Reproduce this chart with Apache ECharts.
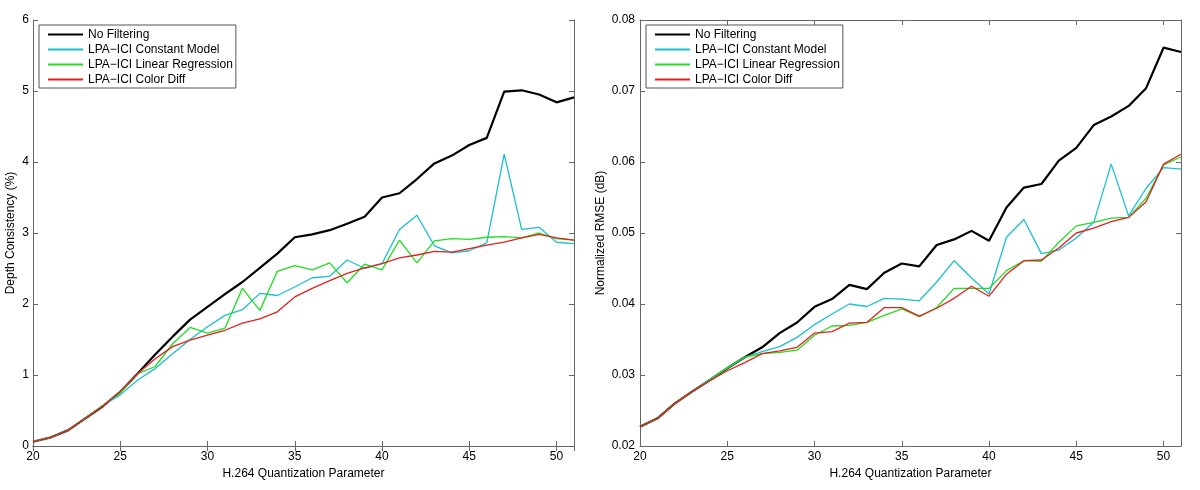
<!DOCTYPE html>
<html><head><meta charset="utf-8">
<script src="https://cdn.jsdelivr.net/npm/echarts@6/dist/echarts.min.js"></script>
<style>html,body{margin:0;padding:0;background:#fff}#c{width:1200px;height:490px}</style>
</head><body><div id="c"></div>
<script>
const qp = [20,21,22,23,24,25,26,27,28,29,30,31,32,33,34,35,36,37,38,39,40,41,42,43,44,45,46,47,48,49,50,51];
const seriesNames = ['No Filtering','LPA\u2212ICI Constant Model','LPA\u2212ICI Linear Regression','LPA\u2212ICI Color Diff'];

// Left: Depth Consistency (%)
const depthNoFilter = [0.06,0.12,0.22,0.39,0.56,0.76,1.02,1.29,1.54,1.78,1.96,2.14,2.31,2.51,2.71,2.94,2.98,3.04,3.13,3.23,3.50,3.56,3.76,3.98,4.09,4.24,4.34,4.99,5.01,4.95,4.84,4.91];
const depthConst    = [0.06,0.12,0.22,0.39,0.57,0.72,0.93,1.09,1.30,1.50,1.68,1.84,1.92,2.15,2.12,2.24,2.37,2.39,2.62,2.50,2.57,3.05,3.25,2.82,2.72,2.75,2.86,4.11,3.05,3.08,2.87,2.85];
const depthLinReg   = [0.06,0.12,0.22,0.39,0.57,0.75,1.02,1.12,1.44,1.67,1.59,1.66,2.22,1.91,2.46,2.54,2.48,2.58,2.30,2.56,2.48,2.90,2.58,2.89,2.92,2.91,2.94,2.95,2.93,3.00,2.92,2.90];
const depthColor    = [0.06,0.12,0.22,0.39,0.56,0.77,1.02,1.23,1.40,1.49,1.56,1.63,1.73,1.79,1.89,2.10,2.22,2.33,2.43,2.51,2.57,2.65,2.69,2.74,2.73,2.78,2.83,2.87,2.93,2.98,2.93,2.90];

// Right: Normalized RMSE (dB)
const rmseNoFilter = [0.0227,0.0239,0.0260,0.0277,0.0293,0.03095,0.0325,0.0339,0.0359,0.0374,0.0396,0.0407,0.0427,0.0421,0.0444,0.0457,0.0453,0.0483,0.0491,0.0503,0.0489,0.0536,0.0564,0.0569,0.0602,0.0620,0.0652,0.0664,0.0679,0.0704,0.0761,0.0755];
const rmseConst    = [0.0227,0.0239,0.0260,0.0277,0.0294,0.03095,0.0325,0.0333,0.0340,0.0353,0.0371,0.0386,0.0400,0.03965,0.0408,0.0407,0.04045,0.0431,0.0461,0.04365,0.0414,0.0494,0.0519,0.0471,0.0476,0.0493,0.0515,0.0597,0.0524,0.0563,0.0592,0.0590];
const rmseLinReg   = [0.0227,0.0239,0.0260,0.0277,0.0293,0.0310,0.0325,0.0330,0.0332,0.0335,0.0356,0.0369,0.0370,0.0374,0.0384,0.0393,0.0382,0.0395,0.0422,0.0422,0.0422,0.0447,0.0461,0.0460,0.0487,0.0510,0.0515,0.0521,0.0522,0.0549,0.0596,0.0607];
const rmseColor    = [0.0227,0.0239,0.0260,0.0277,0.0292,0.0306,0.03175,0.0330,0.0334,0.0339,0.0359,0.0361,0.0373,0.0374,0.0395,0.0395,0.0383,0.0394,0.0408,0.0425,0.0411,0.0442,0.0461,0.0462,0.0479,0.0500,0.0507,0.0516,0.0522,0.0544,0.0597,0.0611];

const xTicks = [20,25,30,35,40,45,50];

const FONT = '"Liberation Sans", Arial, Helvetica, sans-serif';
const AX = '#666';
const colors = ['#000000','#1cbfcf','#22dd22','#e4201c'];
const widths = [2.2,1.3,1.3,1.3];

function pairs(arr){ return qp.map((q,i)=>[q, arr[i]]); }

function xAxes(g){
  const base = {gridIndex:g, type:'value', min:20, max:51, interval:5,
    axisLine:{lineStyle:{color:AX,width:1}},
    axisTick:{inside:true,length:5,lineStyle:{color:AX}},
    splitLine:{show:false}};
  return [
    Object.assign({}, base, {position:'bottom',
      axisLabel:{color:'#000',fontSize:12,fontFamily:FONT,margin:5,
        formatter:v=> xTicks.indexOf(v)>=0 ? String(v) : ''},
      name:'H.264 Quantization Parameter', nameLocation:'middle', nameGap:18,
      nameTextStyle:{color:'#000',fontSize:12,fontFamily:FONT}}),
    Object.assign({}, base, {position:'top', axisLabel:{show:false}})
  ];
}
function yAxes(g, min, max, interval, name, gap, fmt, margin){
  const base = {gridIndex:g, type:'value', min:min, max:max, interval:interval,
    axisLine:{show:true,lineStyle:{color:AX,width:1}},
    axisTick:{show:true,inside:true,length:5,lineStyle:{color:AX}},
    splitLine:{show:false}};
  return [
    Object.assign({}, base, {position:'left',
      axisLabel:{color:'#000',fontSize:12,fontFamily:FONT,margin:margin,formatter:fmt},
      name:name, nameLocation:'middle', nameGap:gap,
      nameTextStyle:{color:'#000',fontSize:12,fontFamily:FONT}}),
    Object.assign({}, base, {position:'right', axisLabel:{show:false}})
  ];
}

const leftData = [depthNoFilter, depthConst, depthLinReg, depthColor];
const rightData = [rmseNoFilter, rmseConst, rmseLinReg, rmseColor];

const series = [];
[leftData, rightData].forEach((set, g)=>{
  set.forEach((arr, k)=>{
    series.push({type:'line', name:seriesNames[k], xAxisIndex:g*2, yAxisIndex:g*2,
      data:pairs(arr), symbol:'none', showSymbol:false, silent:true,
      lineStyle:{color:colors[k], width:widths[k]}, itemStyle:{color:colors[k]}});
  });
});

function legend(left){
  return {left:left, top:25, orient:'vertical', data:seriesNames,
    itemWidth:35, itemHeight:13, itemGap:2, padding:[3,3,2,8],
    borderColor:'#555', borderWidth:1, backgroundColor:'#fff',
    itemStyle:{opacity:0, borderWidth:0},
    textStyle:{color:'#000',fontSize:12,fontFamily:FONT,lineHeight:13}, selectedMode:false};
}

const chart = echarts.init(document.getElementById('c'), null, {renderer:'canvas'});
chart.setOption({
  backgroundColor:'#fff',
  animation:false,
  grid:[
    {left:33, top:20, width:541, height:426, show:false},
    {left:640, top:20, width:541, height:426, show:false}
  ],
  xAxis: xAxes(0).concat(xAxes(1)),
  yAxis: yAxes(0, 0, 6, 1, 'Depth Consistency (%)', 16, v=>String(v), 4)
    .concat(yAxes(1, 0.02, 0.08, 0.01, 'Normalized RMSE (dB)', 33, v=>v.toFixed(2), 5)),
  legend:[legend(39), legend(646)],
  series:series
});
</script>
</body></html>
